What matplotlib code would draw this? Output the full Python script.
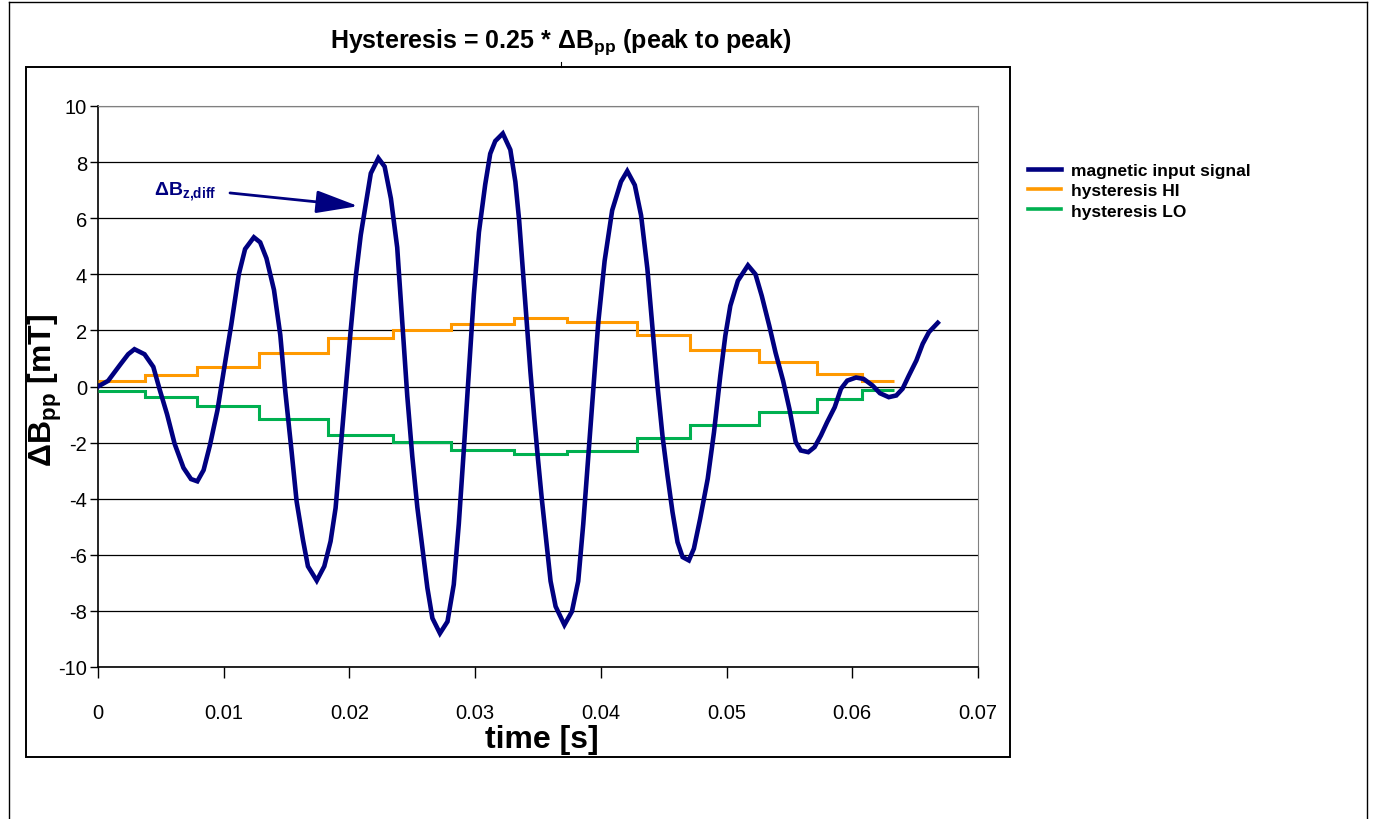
''' Hysteresis HI / LO thresholds against the magnetic input signal '''
import numpy as np
import matplotlib
matplotlib.use('Agg')
import matplotlib.pyplot as plt
from matplotlib.lines import Line2D
from matplotlib.patches import Rectangle

''' ########################### DATA ########################### '''
# magnetic input signal, time [s] and dB [mT]
t_sig = [0.0000, 0.0008, 0.0018, 0.0024, 0.0029, 0.0037, 0.0044, 0.0049, 0.0055,
         0.0061, 0.0068, 0.0074, 0.0079, 0.0084, 0.0089, 0.0095, 0.0100, 0.0106,
         0.0112, 0.0117, 0.0124, 0.0129, 0.0134, 0.0140, 0.0145, 0.0149, 0.0154,
         0.0158, 0.0163, 0.0167, 0.0174, 0.0180, 0.0185, 0.0189, 0.0193, 0.0197,
         0.0201, 0.0205, 0.0209, 0.0213, 0.0217, 0.0223, 0.0228, 0.0233, 0.0238,
         0.0242, 0.0246, 0.0250, 0.0254, 0.0258, 0.0262, 0.0266, 0.0272, 0.0278,
         0.0283, 0.0287, 0.0291, 0.0295, 0.0299, 0.0303, 0.0308, 0.0312, 0.0316,
         0.0322, 0.0328, 0.0332, 0.0335, 0.0338, 0.0341, 0.0344, 0.0347, 0.0350,
         0.0353, 0.0356, 0.0360, 0.0364, 0.0371, 0.0377, 0.0382, 0.0386, 0.0390,
         0.0394, 0.0398, 0.0403, 0.0409, 0.0416, 0.0421, 0.0427, 0.0432, 0.0437,
         0.0441, 0.0445, 0.0449, 0.0453, 0.0457, 0.0461, 0.0465, 0.0470, 0.0474,
         0.0479, 0.0485, 0.0490, 0.0495, 0.0499, 0.0503, 0.0509, 0.0517, 0.0523,
         0.0528, 0.0534, 0.0539, 0.0545, 0.0550, 0.0555, 0.0559, 0.0565, 0.0570,
         0.0575, 0.0580, 0.0586, 0.0591, 0.0596, 0.0603, 0.0609, 0.0616, 0.0622,
         0.0629, 0.0635, 0.0640, 0.0645, 0.0651, 0.0656, 0.0661, 0.0668]
b_sig = [0.00, 0.20, 0.80, 1.15, 1.33, 1.15, 0.70, -0.10, -1.00,
         -2.05, -2.90, -3.30, -3.38, -2.98, -2.10, -0.85, 0.55, 2.20,
         4.00, 4.90, 5.32, 5.14, 4.57, 3.44, 1.84, -0.18, -2.32,
         -4.10, -5.46, -6.41, -6.92, -6.41, -5.52, -4.33, -2.20, -0.10,
         2.00, 3.90, 5.40, 6.50, 7.60, 8.14, 7.84, 6.70, 4.96,
         2.31, -0.33, -2.49, -4.30, -5.74, -7.18, -8.26, -8.80, -8.38,
         -7.06, -4.90, -2.25, 0.51, 3.28, 5.50, 7.20, 8.30, 8.75,
         9.02, 8.44, 7.30, 5.92, 4.12, 2.31, 0.51, -1.10, -2.60,
         -4.00, -5.26, -6.94, -7.84, -8.50, -8.02, -6.94, -4.90, -2.49,
         -0.09, 2.31, 4.48, 6.28, 7.30, 7.68, 7.18, 6.10, 4.20,
         2.10, 0.04, -1.75, -3.17, -4.48, -5.55, -6.08, -6.20, -5.78,
         -4.71, -3.29, -1.63, 0.38, 1.81, 2.88, 3.77, 4.32, 4.00,
         3.23, 2.16, 1.20, 0.20, -0.80, -1.98, -2.28, -2.34, -2.16,
         -1.75, -1.27, -0.74, -0.08, 0.21, 0.32, 0.27, 0.04, -0.24,
         -0.38, -0.32, -0.08, 0.39, 0.93, 1.52, 1.94, 2.27]

# hysteresis levels, held between switching times [s]
t_steps = [0.0, 0.0037, 0.0079, 0.0128, 0.0183, 0.0235, 0.0281, 0.0331,
           0.0373, 0.0429, 0.0471, 0.0526, 0.0572, 0.0608, 0.0633]
hyst_hi = [0.20, 0.42, 0.70, 1.19, 1.73, 2.00, 2.24, 2.44, 2.29, 1.82,
           1.30, 0.87, 0.43, 0.18]
hyst_lo = [-0.15, -0.38, -0.70, -1.15, -1.72, -1.99, -2.25, -2.41, -2.31,
           -1.83, -1.36, -0.91, -0.46, -0.14]

x_ticks = [0, 0.01, 0.02, 0.03, 0.04, 0.05, 0.06, 0.07]
x_tick_labs = ['0', '0.01', '0.02', '0.03', '0.04', '0.05', '0.06', '0.07']
y_ticks = [-10, -8, -6, -4, -2, 0, 2, 4, 6, 8, 10]
leg_ents = ['magnetic input signal', 'hysteresis HI', 'hysteresis LO']

''' ########################### STYLE ########################### '''
W, H = 1378, 820
cols = ['#000080', '#FF9900', '#00B050']
plt.rcParams['font.family'] = ['Liberation Sans', 'DejaVu Sans']
plt.rcParams['mathtext.fontset'] = 'custom'
plt.rcParams['mathtext.rm'] = 'Liberation Sans'
plt.rcParams['mathtext.bf'] = 'Liberation Sans:bold'
plt.rcParams['mathtext.default'] = 'bf'
plt.rcParams['axes.unicode_minus'] = False  # plain hyphen like the original

def fx(px):
    return px / W

def fy(py):
    return 1 - py / H

''' ########################### FIGURE ########################### '''
fig = plt.figure(figsize=(W / 100, H / 100), dpi=100)

# outer border and chart-area box
fig.add_artist(Line2D([fx(9), fx(9)], [0, fy(3)], color='black', lw=1))
fig.add_artist(Line2D([fx(1367), fx(1367)], [0, fy(3)], color='black', lw=1))
fig.add_artist(Line2D([fx(9), fx(1367)], [fy(3), fy(3)], color='black', lw=1))
fig.add_artist(Rectangle((fx(26), fy(758)), fx(1010) - fx(26), fy(68) - fy(758),
                         fill=False, edgecolor='black', lw=1.4))
fig.add_artist(Line2D([fx(561), fx(561)], [fy(68), fy(63)], color='black', lw=0.8))

ax = fig.add_axes([fx(98), fy(668), fx(978) - fx(98), fy(107) - fy(668)])

ax.plot(t_sig, b_sig, color=cols[0], lw=3.3, solid_joinstyle='miter', zorder=4)
ax.stairs(hyst_hi, t_steps, baseline=None, color=cols[1], lw=2.2, zorder=3)
ax.stairs(hyst_lo, t_steps, baseline=None, color=cols[2], lw=2.2, zorder=3)

ax.set_xlim(0, 0.07)
ax.set_ylim(-10, 10)
ax.set_xticks(x_ticks)
ax.set_xticklabels(x_tick_labs)
ax.set_yticks(y_ticks)
ax.yaxis.grid(True, color='black', lw=0.9, zorder=0)
ax.set_axisbelow(True)
ax.tick_params(axis='y', direction='out', length=6, width=1, pad=2, labelsize=14.5)
ax.tick_params(axis='x', direction='out', length=8, width=1, pad=18, labelsize=14.5)
for s in ['top', 'right']:
    ax.spines[s].set_color('#808080')
for s in ['left', 'bottom']:
    ax.spines[s].set_color('black')
    ax.spines[s].set_linewidth(1.2)

# annotation of the differential field
ax.text(0.0069, 6.97, r'$\Delta$B$_{z{,}diff}$', color=cols[0], fontsize=14,
        fontweight='bold', ha='center', va='center')
ax.annotate('', xy=(0.0207, 6.43), xytext=(0.0105, 6.9),
            arrowprops=dict(arrowstyle='-|>,head_length=1.3,head_width=0.35',
                            color=cols[0], lw=2, mutation_scale=20,
                            shrinkA=0, shrinkB=0))

# titles
fig.text(fx(561), fy(42), r'Hysteresis = 0.25 * $\Delta$B$_{pp}$ (peak to peak)',
         ha='center', va='center', fontsize=18, fontweight='bold')
fig.text(fx(542), fy(740), 'time [s]', ha='center', va='center',
         fontsize=23, fontweight='bold')
fig.text(fx(45), fy(390), r'$\Delta$B$_{pp}$ [mT]', ha='center', va='center',
         rotation=90, fontsize=23, fontweight='bold')

handles = [Line2D([], [], color=cols[0], lw=3.3),
           Line2D([], [], color=cols[1], lw=2.6),
           Line2D([], [], color=cols[2], lw=2.6)]
ax.legend(handles, leg_ents, loc='upper left', bbox_to_anchor=(fx(1019), fy(155)),
          bbox_transform=fig.transFigure, frameon=False, handlelength=1.9,
          handletextpad=0.6, labelspacing=0.3, borderpad=0,
          prop={'weight': 'bold', 'size': 12.5})

fig.savefig('out.png', dpi=100)
